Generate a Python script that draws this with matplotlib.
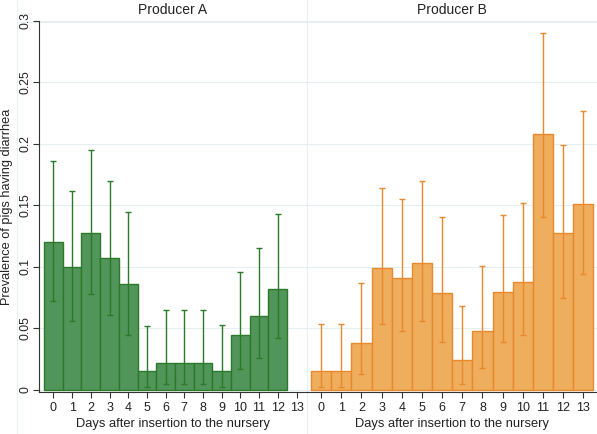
import matplotlib
matplotlib.use("Agg")
import matplotlib.pyplot as plt
import numpy as np

plt.rcParams['font.family'] = ['Liberation Sans', 'DejaVu Sans']

# Producer A: days 0-12
days_a = list(range(13))
prev_a = [0.120, 0.100, 0.128, 0.107, 0.086, 0.015, 0.022, 0.022, 0.022, 0.015, 0.045, 0.060, 0.082]
upper_a = [0.186, 0.162, 0.195, 0.170, 0.145, 0.052, 0.065, 0.065, 0.065, 0.053, 0.096, 0.115, 0.143]
lower_a = [0.072, 0.056, 0.078, 0.061, 0.045, 0.002, 0.005, 0.005, 0.005, 0.002, 0.017, 0.026, 0.042]

# Producer B: days 0-13
days_b = list(range(14))
prev_b = [0.015, 0.015, 0.038, 0.099, 0.091, 0.103, 0.079, 0.024, 0.048, 0.080, 0.088, 0.208, 0.128, 0.151]
upper_b = [0.054, 0.054, 0.087, 0.164, 0.155, 0.170, 0.141, 0.068, 0.101, 0.142, 0.152, 0.290, 0.199, 0.227]
lower_b = [0.002, 0.002, 0.013, 0.054, 0.048, 0.056, 0.039, 0.005, 0.018, 0.039, 0.045, 0.141, 0.075, 0.094]

xticks = list(range(14))
yticks = [0, 0.05, 0.1, 0.15, 0.2, 0.25, 0.3]
ytick_labels = ['0', '0.05', '0.1', '0.15', '0.2', '0.25', '0.3']

W, H = 597, 434
fig = plt.figure(figsize=(W / 100, H / 100), dpi=100)
fig.patch.set_facecolor('white')

grid_color = '#e6eef2'
frame_color = '#e9f0f2'
panels = [
    ("Producer A", days_a, prev_a, lower_a, upper_a, '#52955a', '#2a7a2a', (39, 307), (-0.77, 13.56)),
    ("Producer B", days_b, prev_b, lower_b, upper_b, '#efad5e', '#e8892c', (307, 597), (-0.70, 13.68)),
]

# faint panel frame lines, drawn beneath the axes
for line in [([307 / W, 307 / W], [0, 1]),
             ([17 / W, 17 / W], [0, 1]),
             ([17 / W, 1], [1 - 22 / H, 1 - 22 / H])]:
    fig.add_artist(plt.Line2D(line[0], line[1], color=frame_color, linewidth=0.8, zorder=-5))

top_px, bot_px = 21, 392
for i, (title, days, prev, lo, hi, fill, edge, (x0, x1), xlim) in enumerate(panels):
    ax = fig.add_axes([x0 / W, (H - bot_px) / H, (x1 - x0) / W, (bot_px - top_px) / H])
    ax.set_facecolor('none')
    prev = np.array(prev)
    yerr = [prev - np.array(lo), np.array(hi) - prev]
    ax.bar(days, prev, width=1.0, color=fill, edgecolor=edge, linewidth=1.0, zorder=2)
    ax.errorbar(days, prev, yerr=yerr, fmt='none', ecolor=edge, elinewidth=1.0,
                capsize=2.5, capthick=1.0, zorder=3)
    ax.set_xlim(*xlim)
    ax.set_ylim(-0.0017, 0.3)
    ax.set_xticks(xticks)
    ax.set_xticklabels([str(t) for t in xticks], fontsize=9, color='#222222')
    ax.set_yticks(yticks)
    ax.grid(axis='y', color=grid_color, linewidth=0.8, zorder=0)
    ax.set_axisbelow(True)
    for s in ['top', 'right']:
        ax.spines[s].set_visible(False)
    ax.spines['bottom'].set_color('#333333')
    ax.spines['bottom'].set_linewidth(0.8)
    ax.tick_params(axis='x', length=4, color='#333333', pad=3.5)
    if i == 0:
        ax.spines['left'].set_color('#333333')
        ax.spines['left'].set_linewidth(0.8)
        ax.set_yticklabels(ytick_labels, fontsize=8.8, rotation=90, va='center', color='#222222')
        ax.tick_params(axis='y', length=4, color='#333333', pad=1.5)
        ax.set_ylabel('Prevalence of pigs having diarrhea', fontsize=9.2, color='#222222')
        ax.yaxis.set_label_coords((13 - x0) / (x1 - x0), 0.5)
    else:
        ax.spines['left'].set_visible(False)
        ax.set_yticklabels([])
        ax.tick_params(axis='y', length=0)
    ax.set_xlabel('Days after insertion to the nursery', fontsize=9.3, color='#222222', labelpad=2.5)
    fig.text((x0 + x1) / 2 / W, 1 - 10 / H, title, ha='center', va='center',
             fontsize=10, color='#222222')

fig.savefig('out.png', dpi=100)
